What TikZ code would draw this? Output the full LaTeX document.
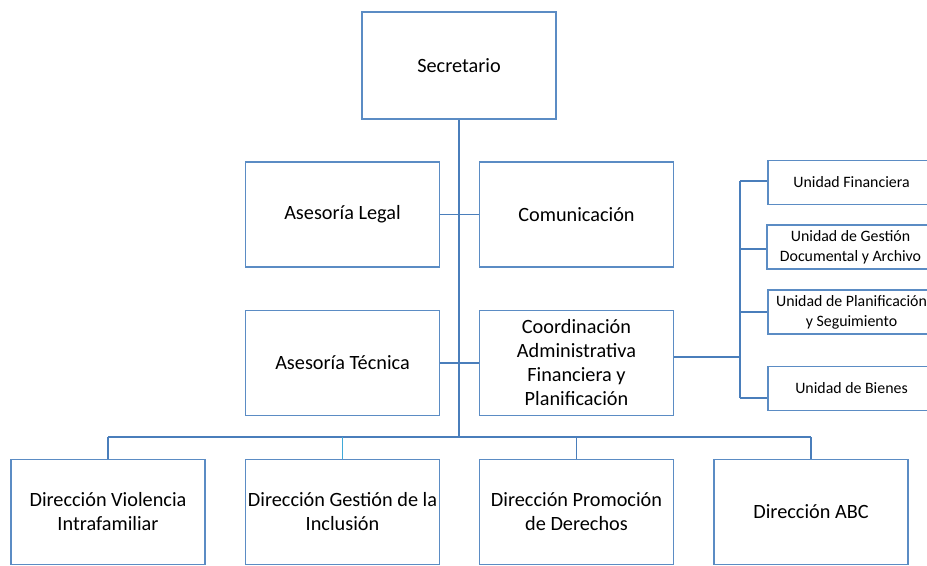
\documentclass[tikz,border=0pt]{standalone}
\usepackage{fontspec}
\setmainfont{Carlito}
\definecolor{boxc}{HTML}{5B8CC4}
\definecolor{linec}{HTML}{4A7EBB}
\definecolor{linelight}{HTML}{3FA9D8}
\begin{document}
\begin{tikzpicture}[x=0.75pt,y=-0.75pt,
  bigbox/.style={draw=boxc,line width=1.1pt,fill=white,minimum width=145.5pt,minimum height=79pt,align=center,font=\fontsize{15.2}{18}\selectfont,inner sep=1pt},
  unitbox/.style={draw=boxc,line width=1.1pt,fill=white,minimum width=125pt,minimum height=33pt,align=center,font=\fontsize{11.9}{15}\selectfont,inner sep=1pt},
  conn/.style={draw=linec,line width=1.1pt}]
\useasboundingbox (0,0) rectangle (927,565);
\clip (0,0) rectangle (927,565);
% main nodes
\node[bigbox,minimum height=80pt] (sec) at (459,65.5) {Secretario};
\node[bigbox] (leg) at (342.5,214.5) {Asesoría Legal};
\node[bigbox] (com) at (576.5,214.5) {Comunicación};
\node[bigbox] (tec) at (342.5,363) {Asesoría Técnica};
\node[bigbox] (coo) at (576.5,363) {Coordinación\\Administrativa\\Financiera y\\Planificación};
\node[bigbox] (dvi) at (108,512) {Dirección Violencia\\Intrafamiliar};
\node[bigbox] (dgi) at (342.5,512) {Dirección Gestión de la\\Inclusión};
\node[bigbox] (dpd) at (576.5,512) {Dirección Promoción\\de Derechos};
\node[bigbox] (abc) at (811,512) {Dirección ABC};
% unit nodes
\node[unitbox] (uf) at (851.5,182.5) {Unidad Financiera};
\node[unitbox] (ug) at (850.5,247) {Unidad de Gestión\\Documental y Archivo};
\node[unitbox] (up) at (851.5,312) {Unidad de Planificación\\y Seguimiento};
\node[unitbox] (ub) at (851.5,388.5) {Unidad de Bienes};
% coordinates
\coordinate (bar) at (459,437);
\coordinate (rv) at (740,357);
\coordinate (rtop) at (740,181);
\coordinate (rbot) at (740,398);
% connectors
\draw[conn] (sec.south) -- (bar);
\draw[conn] (leg.east) -- (com.west);
\draw[conn] (tec.east) -- (coo.west);
\draw[conn] (dvi.north |- bar) -- (abc.north |- bar);
\draw[conn] (dvi.north) -- (dvi.north |- bar);
\draw[draw=linelight,line width=1.1pt] (dgi.north) -- (dgi.north |- bar);
\draw[conn] (dpd.north) -- (dpd.north |- bar);
\draw[conn] (abc.north) -- (abc.north |- bar);
\draw[conn] (coo.east |- rv) -- (rv);
\draw[conn] (rtop) -- (rbot);
\draw[conn] (rtop) -- (rtop -| uf.west);
\draw[conn] (rv |- 0,249) -- (ug.west |- 0,249);
\draw[conn] (up.west -| rv) -- (up.west);
\draw[conn] (rbot) -- (rbot -| ub.west);
\end{tikzpicture}
\end{document}
